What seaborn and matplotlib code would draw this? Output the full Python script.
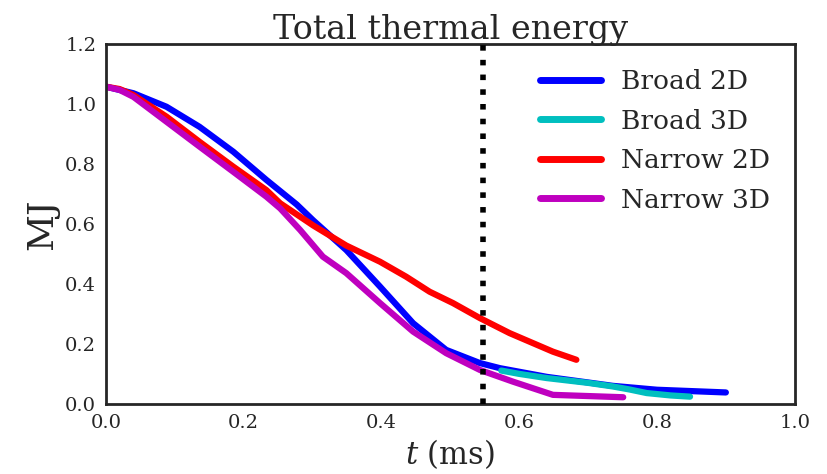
import matplotlib
matplotlib.use("Agg")
import matplotlib.pyplot as plt
import seaborn as sns
import pandas as pd

# ---- data ----
broad2d_t = [0.0, 0.04, 0.088, 0.136, 0.185, 0.233, 0.277, 0.301, 0.349, 0.398, 0.446, 0.494, 0.543, 0.572, 0.64, 0.736, 0.80, 0.90]
broad2d_e = [1.058, 1.036, 0.991, 0.924, 0.841, 0.747, 0.665, 0.612, 0.513, 0.391, 0.269, 0.18, 0.136, 0.119, 0.09, 0.06, 0.047, 0.038]

broad3d_t = [0.574, 0.60, 0.64, 0.70, 0.736, 0.76, 0.785, 0.82, 0.848]
broad3d_e = [0.111, 0.10, 0.086, 0.07, 0.058, 0.048, 0.036, 0.028, 0.024]

narrow2d_t = [0.0, 0.02, 0.04, 0.088, 0.136, 0.185, 0.233, 0.253, 0.301, 0.349, 0.398, 0.436, 0.470, 0.504, 0.543, 0.586, 0.649, 0.683]
narrow2d_e = [1.058, 1.05, 1.03, 0.958, 0.874, 0.791, 0.713, 0.669, 0.595, 0.528, 0.474, 0.424, 0.374, 0.336, 0.286, 0.236, 0.174, 0.147]

narrow3d_t = [0.0, 0.02, 0.04, 0.088, 0.136, 0.185, 0.233, 0.253, 0.282, 0.315, 0.349, 0.398, 0.446, 0.494, 0.543, 0.591, 0.649, 0.751]
narrow3d_e = [1.058, 1.047, 1.024, 0.941, 0.858, 0.774, 0.691, 0.652, 0.58, 0.491, 0.436, 0.336, 0.241, 0.169, 0.113, 0.074, 0.030, 0.022]

labels = ["Broad 2D", "Broad 3D", "Narrow 2D", "Narrow 3D"]
colors = ["#0000ff", "#00bfbf", "#ff0000", "#bf00bf"]
vline_t = 0.547

frames = []
for lab, t, e in zip(labels,
                     [broad2d_t, broad3d_t, narrow2d_t, narrow3d_t],
                     [broad2d_e, broad3d_e, narrow2d_e, narrow3d_e]):
    frames.append(pd.DataFrame({"t": t, "E": e, "case": lab}))
df = pd.concat(frames, ignore_index=True)

sns.set_style("white")
plt.rcParams["font.family"] = ["DejaVu Serif"]
plt.rcParams["mathtext.fontset"] = "dejavuserif"

fig = plt.figure(figsize=(8.27, 4.74), dpi=100)
ax = fig.add_axes([0.128, 0.148, 0.833, 0.759])

sns.lineplot(data=df, x="t", y="E", hue="case", hue_order=labels,
             palette=dict(zip(labels, colors)), linewidth=4.5, ax=ax,
             solid_capstyle="round", solid_joinstyle="round", estimator=None)

ax.axvline(vline_t, color="black", linestyle=":", linewidth=4, zorder=5)

ax.set_xlim(0, 1.0)
ax.set_ylim(0, 1.2)
ax.set_xticks([0.0, 0.2, 0.4, 0.6, 0.8, 1.0])
ax.set_yticks([0.0, 0.2, 0.4, 0.6, 0.8, 1.0, 1.2])
ax.tick_params(labelsize=14, colors="#262626")
ax.set_xlabel(r"$t$ (ms)", fontsize=22, color="#262626", labelpad=4)
ax.set_ylabel("MJ", fontsize=26, color="#262626")
ax.set_title("Total thermal energy", fontsize=24, color="#262626", pad=4)
for s in ax.spines.values():
    s.set_linewidth(2)
    s.set_color("#262626")

handles, labs = ax.get_legend_handles_labels()
leg = ax.legend(handles, labs, loc="upper right", frameon=False, fontsize=19,
                handlelength=2.3, handletextpad=0.75, labelspacing=0.55,
                borderaxespad=0.55)
for line in leg.get_lines():
    line.set_linewidth(5)
    line.set_solid_capstyle("round")
for txt in leg.get_texts():
    txt.set_color("#262626")

fig.savefig("out.png", dpi=100)
